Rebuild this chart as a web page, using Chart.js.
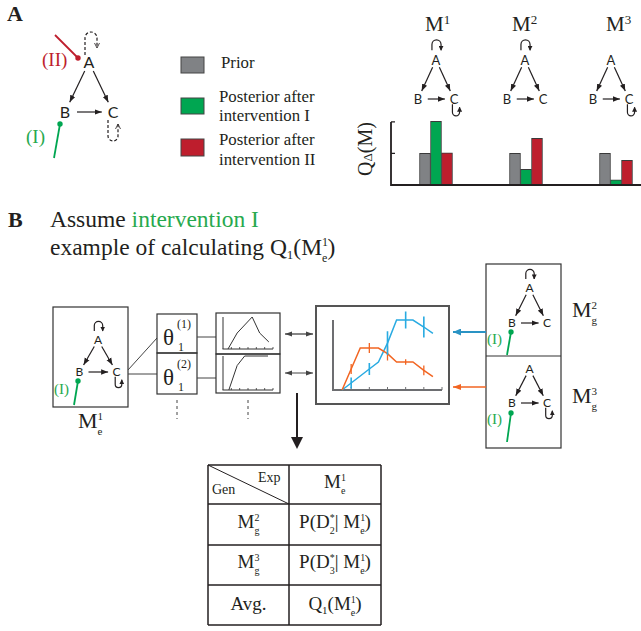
<!DOCTYPE html>
<html><head><meta charset="utf-8">
<script src="https://cdn.jsdelivr.net/npm/chart.js@4.4.0/dist/chart.umd.min.js"></script>
<style>
html,body{margin:0;padding:0;background:#fff;overflow:hidden;}
#page{position:relative;width:641px;height:631px;overflow:hidden;background:#fff;}
#svg{position:absolute;left:0;top:0;}
canvas{position:absolute;}
</style></head><body>
<div id="page">
<svg id="svg" width="641" height="631" xmlns="http://www.w3.org/2000/svg"></svg>
<canvas id="bars" width="273" height="71" style="left:388px;top:115px"></canvas>
<canvas id="fit" width="129" height="94" style="left:318px;top:308px"></canvas>
<canvas id="spark1" width="63" height="39" style="left:217px;top:314px"></canvas>
<canvas id="spark2" width="63" height="37" style="left:217px;top:355px"></canvas>
</div>
<script>
// ---------------- DATA ----------------
const modelLabels = ['M1', 'M2', 'M3'];
const priorQ = [1, 1, 1];
const postQ_I = [2.02, 0.5, 0.16];
const postQ_II = [1.02, 1.48, 0.78];
const qTicks = [1, 2];

const blueX = [0.5, 1, 2, 2.5, 3, 3.5, 4, 4.4, 5, 5.5];
const blueY = [0, 10, 30, 40, 67, 100, 100, 100, 90, 81];
const blueErr = [null, 8, 8.5, null, 17, null, 12, null, 15, null];
const orangeX = [0.5, 1, 1.5, 2, 2.5, 3, 3.5, 4, 4.4, 5, 5.5];
const orangeY = [0, 30, 60, 60, 60, 52, 40, 40, 40, 28, 19];
const orangeErr = [null, 7, null, 7, null, 10, null, 4, null, 7, null];
const fitTicks = [1, 2, 3, 4, 5, 6];

const spark1X = [0.6, 1.7, 3.5, 4.4, 5.5];
const spark1Y = [0, 0.5, 1.0, 0.5, 0.22];
const spark2X = [0.7, 1.7, 2.6, 5.4];
const spark2Y = [0, 0.72, 1.0, 1.0];
const sparkTicks = [1, 2, 3, 4, 5, 6];

// ---------------- COLOURS ----------------
const C_GRAY = '#808285', C_GREEN = '#00a651', C_RED = '#be1e2d';
const C_BLUE = '#29abe2', C_ORANGE = '#f26522', C_INK = '#231f20';
const C_GTEXT = '#27a94e';

// ---------------- SVG DIAGRAMS ----------------
const P = [];
P.push(`<defs>
<marker id="ah" markerWidth="7" markerHeight="6" refX="7" refY="3" orient="auto" markerUnits="userSpaceOnUse"><path d="M0,0.3 L7,3 L0,5.7 z" fill="${C_INK}"/></marker>
<marker id="ahs" markerWidth="5" markerHeight="5" refX="4.5" refY="2.5" orient="auto" markerUnits="userSpaceOnUse"><path d="M0,0 L5,2.5 L0,5 z" fill="${C_INK}"/></marker>
<marker id="aho" markerWidth="6" markerHeight="6" refX="5" refY="3" orient="auto" markerUnits="userSpaceOnUse"><path d="M0,0.5 L5,3 L0,5.5" fill="none" stroke="${C_INK}" stroke-width="0.8"/></marker>
<marker id="ahd" markerWidth="7" markerHeight="6" refX="7" refY="3" orient="auto-start-reverse" markerUnits="userSpaceOnUse"><path d="M0,0.5 L7,3 L0,5.5 z" fill="#444"/></marker>
<marker id="ahb" markerWidth="8" markerHeight="7" refX="8" refY="3.5" orient="auto" markerUnits="userSpaceOnUse"><path d="M0,0 L8,3.5 L0,7 z" fill="#2a93c4"/></marker>
<marker id="aho2" markerWidth="8" markerHeight="7" refX="8" refY="3.5" orient="auto" markerUnits="userSpaceOnUse"><path d="M0,0.5 L8,3.5 L0,6.5 z" fill="${C_ORANGE}"/></marker>
</defs>
<style>
.sf{font-family:'Liberation Serif','DejaVu Serif',serif;fill:${C_INK};}
.nd{font-family:Lato,'Liberation Sans',sans-serif;fill:${C_INK};text-anchor:middle;}
.ed{stroke:${C_INK};stroke-width:1.2;fill:none;}
.bx{stroke:#333;stroke-width:1.2;fill:none;}
</style>`);

function SS(sup, sub, fs, after) {
  const s = Math.round(fs * 0.52);
  const up = fs * 0.38, down = fs * 0.3;
  const w = sup.length * 0.5 * s;
  let r = `<tspan dy="${-up}" font-size="${s}">${sup}</tspan><tspan dx="${-w}" dy="${up + down}" font-size="${s}">${sub}</tspan>`;
  if (after !== undefined) r += `<tspan dy="${-down}">${after}</tspan>`;
  return r;
}
function loopUp(x, base, top, w, dashed, endOff) {
  const l = x - w / 2, r = x + w / 2, rr = w / 2;
  return `<path d="M${l},${base} L${l},${top + rr} A${rr},${rr} 0 0 1 ${r},${top + rr} L${r},${base - (endOff||0)}" class="ed" ${dashed ? 'stroke-dasharray="3,2" stroke-width="1"' : ''} marker-end="url(#${dashed ? 'aho' : 'ahs'})"/>`;
}
function loopDown(x, base, bot, w, dashed, endOff) {
  const l = x - w / 2, r = x + w / 2, rr = w / 2;
  return `<path d="M${l},${base} L${l},${bot - rr} A${rr},${rr} 0 0 0 ${r},${bot - rr} L${r},${base + (endOff||0)}" class="ed" ${dashed ? 'stroke-dasharray="3,2" stroke-width="1"' : ''} marker-end="url(#${dashed ? 'aho' : 'ahs'})"/>`;
}
function graph(ax, ay, dx, dy, fs, o) {
  const bx = ax - dx, by = ay + dy, cx = ax + dx, cy = by;
  const capH = fs * 0.72;
  let s = '';
  s += `<text x="${ax}" y="${ay + capH / 2}" class="nd" font-size="${fs}">A</text>`;
  s += `<text x="${bx}" y="${by + capH / 2}" class="nd" font-size="${fs}">B</text>`;
  s += `<text x="${cx}" y="${cy + capH / 2}" class="nd" font-size="${fs}">C</text>`;
  const r1 = fs * 0.62, r2 = fs * 0.68;
  const arr = (x1, y1, x2, y2) => {
    const L = Math.hypot(x2 - x1, y2 - y1), ux = (x2 - x1) / L, uy = (y2 - y1) / L;
    return `<line x1="${x1 + ux * r1}" y1="${y1 + uy * r1}" x2="${x2 - ux * r2}" y2="${y2 - uy * r2}" class="ed" marker-end="url(#ah)"/>`;
  };
  s += arr(ax, ay, bx, by) + arr(ax, ay, cx, cy);
  s += `<line x1="${bx + fs * 0.75}" y1="${by}" x2="${cx - fs * 0.7}" y2="${cy}" class="ed" marker-end="url(#ah)"/>`;
  if (o.loopA) s += loopUp(ax + 0.5, ay - fs * 0.75, ay - fs * 1.55, fs * 0.7, false);
  if (o.loopC) s += loopDown(cx + 2, cy + fs * 0.4, cy + fs * 1.3, fs * 0.55, false, 3);
  return s;
}
function interv(x1, y1, x2, y2, col) {
  return `<line x1="${x1}" y1="${y1}" x2="${x2}" y2="${y2}" stroke="${col}" stroke-width="1.8"/><circle cx="${x1}" cy="${y1}" r="2.7" fill="${col}"/>`;
}

// ---- Panel A ----
P.push(`<text x="7" y="21" class="sf" font-size="22" font-weight="bold">A</text>`);
P.push(graph(89, 62, 24, 50, 16, {}));
P.push(loopUp(91, 55, 32, 12, true, 7));
P.push(loopDown(113, 120, 141, 10, true, 4));
P.push(interv(78, 58, 55, 35, C_RED));
P.push(`<text x="42" y="66" class="sf" font-size="19" style="fill:${C_RED}">(II)</text>`);
P.push(interv(60, 124, 54, 158, C_GREEN));
P.push(`<text x="26" y="143" class="sf" font-size="19" style="fill:${C_GTEXT}">(I)</text>`);

// legend
P.push(`<rect x="181" y="57" width="23" height="16" fill="${C_GRAY}" stroke="#444" stroke-width="1"/>`);
P.push(`<rect x="181" y="98" width="23" height="16" fill="${C_GREEN}" stroke="#444" stroke-width="1"/>`);
P.push(`<rect x="181" y="139" width="23" height="17" fill="${C_RED}" stroke="#444" stroke-width="1"/>`);
P.push(`<text x="221" y="68" class="sf" font-size="16.8">Prior</text>`);
P.push(`<text x="219" y="102" class="sf" font-size="16.8">Posterior after</text>`);
P.push(`<text x="219" y="121" class="sf" font-size="16.8">intervention I</text>`);
P.push(`<text x="219" y="145" class="sf" font-size="16.8">Posterior after</text>`);
P.push(`<text x="219" y="165" class="sf" font-size="16.8">intervention II</text>`);

// model headers
const hdrX = [425, 512, 606], sups = ['1', '2', '3'];
hdrX.forEach((x, i) => P.push(`<text x="${x}" y="31" class="sf" font-size="21">M<tspan dy="-7" font-size="13">${sups[i]}</tspan></text>`));
P.push(graph(436, 60, 18, 39, 13, { loopA: true, loopC: true }));
P.push(graph(525, 60, 18, 39, 13, { loopA: true }));
P.push(graph(611, 60, 18, 39, 13, { loopC: true }));
P.push(`<text transform="translate(372,149) rotate(-90)" class="sf" font-size="20" text-anchor="middle">Q<tspan font-size="13">Δ</tspan>(M)</text>`);

// ---- Panel B ----
P.push(`<text x="8" y="227" class="sf" font-size="22" font-weight="bold">B</text>`);
P.push(`<text x="50" y="227" class="sf" font-size="23.5">Assume <tspan style="fill:${C_GTEXT}">intervention I</tspan></text>`);
P.push(`<text x="50" y="255" class="sf" font-size="23.5">example of calculating Q<tspan dy="4" font-size="13">1</tspan><tspan dy="-4">(M</tspan>${SS('1', 'e', 23.5, ')')}</text>`);

// left model box
P.push(`<rect x="53" y="307" width="75" height="100" class="bx"/>`);
P.push(graph(98, 340, 18.5, 32, 12, { loopA: true, loopC: true }));
P.push(interv(78, 381, 74, 405, C_GREEN));
P.push(`<text x="54" y="394" class="sf" font-size="15" style="fill:${C_GTEXT}">(I)</text>`);
P.push(`<text x="78" y="428" class="sf" font-size="22">M${SS('1', 'e', 22)}</text>`);
P.push(`<line x1="128" y1="370" x2="157" y2="338" stroke="#444" stroke-width="1"/>`);
P.push(`<line x1="128" y1="374" x2="157" y2="374" stroke="#444" stroke-width="1"/>`);

// theta boxes
P.push(`<rect x="157" y="314" width="40" height="39" class="bx"/>`);
P.push(`<rect x="157" y="353" width="40" height="41" class="bx"/>`);
[[345, '(1)'], [385, '(2)']].forEach(([b, s]) => {
  P.push(`<text x="163" y="${b}" class="sf" font-size="23">θ</text>`);
  P.push(`<text x="177" y="${b - 17}" class="sf" font-size="12">${s}</text>`);
  P.push(`<text x="178" y="${b + 6}" class="sf" font-size="12">1</text>`);
});
P.push(`<line x1="197" y1="337" x2="216" y2="337" stroke="#444" stroke-width="1"/>`);
P.push(`<line x1="197" y1="378" x2="216" y2="378" stroke="#444" stroke-width="1"/>`);
P.push(`<rect x="216" y="313" width="64" height="41" class="bx"/>`);
P.push(`<rect x="216" y="354" width="64" height="39" class="bx"/>`);
P.push(`<line x1="177" y1="400" x2="177" y2="419" stroke="#444" stroke-width="1" stroke-dasharray="3,3"/>`);
P.push(`<line x1="248" y1="400" x2="248" y2="419" stroke="#444" stroke-width="1" stroke-dasharray="3,3"/>`);
P.push(`<line x1="285" y1="334" x2="313" y2="334" stroke="#444" stroke-width="1.3" marker-start="url(#ahd)" marker-end="url(#ahd)"/>`);
P.push(`<line x1="285" y1="373" x2="313" y2="373" stroke="#444" stroke-width="1" marker-start="url(#ahd)" marker-end="url(#ahd)"/>`);

// fit plot box
P.push(`<rect x="316" y="306" width="133" height="98" fill="none" stroke="#555" stroke-width="2"/>`);
// down arrow
P.push(`<line x1="297" y1="393" x2="297" y2="440" stroke="${C_INK}" stroke-width="2"/><path d="M291,437 L297,449 L303,437 z" fill="${C_INK}"/>`);

// right model boxes
P.push(`<rect x="486" y="264" width="75" height="184" class="bx"/>`);
P.push(`<line x1="486" y1="356" x2="561" y2="356" stroke="#333" stroke-width="1.2"/>`);
P.push(graph(529.5, 288, 17.5, 35, 12, { loopA: true }));
P.push(graph(529.5, 369, 17.5, 34, 12, { loopC: true }));
P.push(interv(511, 332, 507, 355, C_GREEN));
P.push(interv(511, 413, 507, 442, C_GREEN));
P.push(`<text x="487" y="344" class="sf" font-size="15" style="fill:${C_GTEXT}">(I)</text>`);
P.push(`<text x="487" y="424" class="sf" font-size="15" style="fill:${C_GTEXT}">(I)</text>`);
P.push(`<text x="572" y="317" class="sf" font-size="22">M${SS('2', 'g', 22)}</text>`);
P.push(`<text x="572" y="403" class="sf" font-size="22">M${SS('3', 'g', 22)}</text>`);
P.push(`<line x1="486" y1="332" x2="453" y2="332" stroke="#2a93c4" stroke-width="2.2" marker-end="url(#ahb)"/>`);
P.push(`<line x1="486" y1="387" x2="453" y2="387" stroke="${C_ORANGE}" stroke-width="1.3" marker-end="url(#aho2)"/>`);

// table
const TX = [208, 289, 381], TY = [465, 504, 545, 585, 625];
TY.forEach(y => P.push(`<line x1="${TX[0]}" y1="${y}" x2="${TX[2]}" y2="${y}" stroke="${C_INK}" stroke-width="1.5"/>`));
TX.forEach(x => P.push(`<line x1="${x}" y1="${TY[0]}" x2="${x}" y2="${TY[4]}" stroke="${C_INK}" stroke-width="1.5"/>`));
P.push(`<line x1="${TX[0]}" y1="${TY[0]}" x2="${TX[1]}" y2="${TY[1]}" stroke="${C_INK}" stroke-width="1"/>`);
P.push(`<text x="258" y="482" class="sf" font-size="14">Exp</text>`);
P.push(`<text x="212" y="494" class="sf" font-size="14">Gen</text>`);
const c1 = (TX[0] + TX[1]) / 2, c2 = (TX[1] + TX[2]) / 2;
P.push(`<text x="${c2}" y="488" class="sf" font-size="19" text-anchor="middle">M${SS('1', 'e', 19)}</text>`);
P.push(`<text x="${c1}" y="528" class="sf" font-size="19" text-anchor="middle">M${SS('2', 'g', 19)}</text>`);
P.push(`<text x="${c2}" y="528" class="sf" font-size="19" text-anchor="middle">P(D${SS('*', '2', 19, '| M')}${SS('1', 'e', 19, ')')}</text>`);
P.push(`<text x="${c1}" y="568" class="sf" font-size="19" text-anchor="middle">M${SS('3', 'g', 19)}</text>`);
P.push(`<text x="${c2}" y="568" class="sf" font-size="19" text-anchor="middle">P(D${SS('*', '3', 19, '| M')}${SS('1', 'e', 19, ')')}</text>`);
P.push(`<text x="${c1}" y="610" class="sf" font-size="19" text-anchor="middle">Avg.</text>`);
P.push(`<text x="${c2}" y="610" class="sf" font-size="19" text-anchor="middle">Q<tspan dy="4" font-size="11">1</tspan><tspan dy="-4">(M</tspan>${SS('1', 'e', 19, ')')}</text>`);

document.getElementById('svg').innerHTML = P.join('\n');

// ---------------- CHART.JS ----------------
const axesPlugin = {
  id: 'customAxes',
  _draw(chart, o) {
    const { ctx, chartArea: a, scales } = chart;
    const xs = scales.x, ys = scales.y;
    ctx.save();
    ctx.strokeStyle = o.color; ctx.lineWidth = o.width; ctx.lineCap = 'butt';
    const yTop = o.yTop !== undefined ? ys.getPixelForValue(o.yTop) : a.top;
    const yb = a.bottom;
    ctx.beginPath();
    ctx.moveTo(a.left, yTop); ctx.lineTo(a.left, yb);
    ctx.moveTo(a.left - o.width / 2, yb); ctx.lineTo(o.toEdge ? chart.width : a.right, yb);
    ctx.stroke();
    ctx.lineWidth = o.tickWidth || 1;
    ctx.beginPath();
    (o.xTicks || []).forEach(v => { const px = xs.getPixelForValue(v); ctx.moveTo(px, yb); ctx.lineTo(px, yb - o.tickLen); });
    (o.yTicks || []).forEach(v => { const py = ys.getPixelForValue(v); ctx.moveTo(a.left, py); ctx.lineTo(a.left + o.tickLen, py); });
    ctx.stroke();
    ctx.restore();
  },
  beforeDatasetsDraw(chart, args, o) { if (o.layer === 'below') this._draw(chart, o); },
  afterDatasetsDraw(chart, args, o) { if (o.layer !== 'below') this._draw(chart, o); }
};
const errPlugin = {
  id: 'errBars',
  afterDatasetsDraw(chart) {
    const { ctx } = chart, ys = chart.scales.y;
    chart.data.datasets.forEach((ds, di) => {
      if (!ds.errors) return;
      const meta = chart.getDatasetMeta(di);
      ctx.save();
      ctx.strokeStyle = ds.borderColor; ctx.lineWidth = ds.errWidth || 1.5;
      ctx.beginPath();
      ds.errors.forEach((e, i) => {
        if (e == null) return;
        const pt = meta.data[i], v = ds.data[i].y;
        ctx.moveTo(pt.x, ys.getPixelForValue(v - e));
        ctx.lineTo(pt.x, ys.getPixelForValue(v + e));
      });
      ctx.stroke();
      ctx.restore();
    });
  }
};
Chart.register(axesPlugin, errPlugin);

const base = (extra) => Object.assign({
  responsive: false, animation: false, devicePixelRatio: 1,
  events: [],
}, extra);

new Chart(document.getElementById('bars'), {
  type: 'bar',
  data: {
    labels: modelLabels,
    datasets: [
      { label: 'Prior', data: priorQ, backgroundColor: C_GRAY },
      { label: 'Posterior after intervention I', data: postQ_I, backgroundColor: C_GREEN },
      { label: 'Posterior after intervention II', data: postQ_II, backgroundColor: C_RED },
    ].map(d => Object.assign(d, { borderColor: '#3a3a3a', borderWidth: 1, barThickness: 11, borderSkipped: 'bottom' }))
  },
  options: base({
    layout: { padding: { left: 3, right: 0, top: 5, bottom: 1 } },
    scales: { x: { display: false }, y: { display: false, min: 0, max: 2.06 } },
    plugins: { legend: { display: false }, tooltip: { enabled: false },
      customAxes: { color: C_INK, width: 1.8, tickWidth: 1.3, yTop: 2, yTicks: qTicks, tickLen: 4, toEdge: true } }
  })
});

const pts = (xs, ys) => xs.map((x, i) => ({ x, y: ys[i] }));
new Chart(document.getElementById('fit'), {
  type: 'line',
  data: {
    datasets: [
      { data: pts(orangeX, orangeY), errors: orangeErr, borderColor: C_ORANGE, borderWidth: 1.5, errWidth: 1.3 },
      { data: pts(blueX, blueY), errors: blueErr, borderColor: C_BLUE, borderWidth: 1.5, errWidth: 1.6 },
    ].map(d => Object.assign(d, { pointRadius: 0, tension: 0, fill: false, clip: false }))
  },
  options: base({
    layout: { padding: { left: 15, right: 5, top: 12, bottom: 12 } },
    scales: { x: { type: 'linear', display: false, min: 0, max: 6 }, y: { display: false, min: 0, max: 100 } },
    plugins: { legend: { display: false }, tooltip: { enabled: false },
      customAxes: { layer: 'below', color: '#6d6e71', width: 2, tickWidth: 1, xTicks: fitTicks, tickLen: 3 } }
  })
});

function spark(id, xs, ys, pad) {
  new Chart(document.getElementById(id), {
    type: 'line',
    data: { datasets: [{ data: pts(xs, ys), borderColor: '#333', borderWidth: 1, pointRadius: 0, tension: 0, clip: false }] },
    options: base({
      layout: { padding: pad },
      scales: { x: { type: 'linear', display: false, min: 0, max: 6 }, y: { display: false, min: 0, max: 1 } },
      plugins: { legend: { display: false }, tooltip: { enabled: false },
        customAxes: { layer: 'below', color: '#333', width: 1, tickWidth: 0.8, xTicks: sparkTicks, tickLen: 2 } }
    })
  });
}
spark('spark1', spark1X, spark1Y, { left: 6, right: 7, top: 3, bottom: 4 });
spark('spark2', spark2X, spark2Y, { left: 6, right: 7, top: 1, bottom: 2 });
</script>
</body></html>
